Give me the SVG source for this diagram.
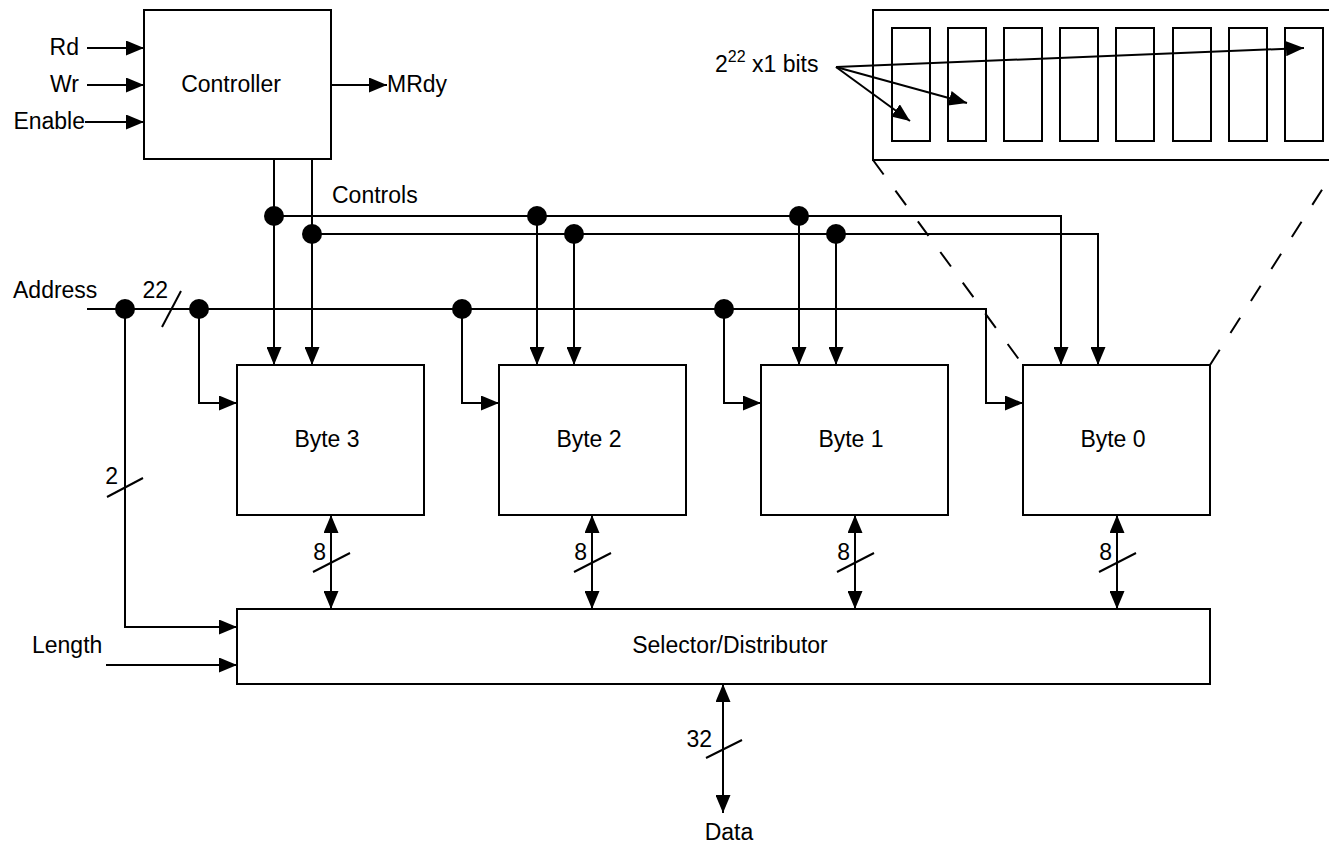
<svg xmlns="http://www.w3.org/2000/svg" width="1329" height="845" viewBox="0 0 1329 845">
<defs>
<marker id="arr" viewBox="0 0 18 15" refX="18" refY="7.5" markerWidth="18" markerHeight="15" markerUnits="userSpaceOnUse" orient="auto-start-reverse"><path d="M0,0 L18,7.5 L0,15 z" fill="#000"/></marker>
</defs>
<style>
.box{fill:#fff;stroke:#000;stroke-width:2}
.ln{fill:none;stroke:#000;stroke-width:2}
.dash{fill:none;stroke:#000;stroke-width:2;stroke-dasharray:18 20}
.t{font-family:"Liberation Sans",Arial,sans-serif;font-size:23px;fill:#000}
.m{text-anchor:middle}
.e{text-anchor:end}
.dot{fill:#000}
.a{marker-end:url(#arr)}
.aa{marker-start:url(#arr);marker-end:url(#arr)}
</style>
<rect x="0" y="0" width="1329" height="845" fill="#fff"/>

<g id="memory-detail">
<rect class="box" x="873" y="10" width="480" height="150"/>
<rect class="box" x="892" y="28" width="38" height="113"/>
<rect class="box" x="948" y="28" width="38" height="113"/>
<rect class="box" x="1004" y="28" width="38" height="113"/>
<rect class="box" x="1060" y="28" width="38" height="113"/>
<rect class="box" x="1116" y="28" width="38" height="113"/>
<rect class="box" x="1173" y="28" width="38" height="113"/>
<rect class="box" x="1229" y="28" width="38" height="113"/>
<rect class="box" x="1285" y="28" width="38" height="113"/>
<text class="t" x="715" y="72">2<tspan font-size="16" dy="-10">22</tspan><tspan dy="10"> x1 bits</tspan></text>
</g>

<g id="controller">
<rect class="box" x="144" y="10" width="187" height="149"/>
<text class="t m" x="231" y="92">Controller</text>
</g>

<g id="byte3">
<rect class="box" x="237" y="365" width="187" height="150"/>
<text class="t m" x="327" y="447">Byte 3</text>
</g>
<g id="byte2">
<rect class="box" x="499" y="365" width="187" height="150"/>
<text class="t m" x="589" y="447">Byte 2</text>
</g>
<g id="byte1">
<rect class="box" x="761" y="365" width="187" height="150"/>
<text class="t m" x="851" y="447">Byte 1</text>
</g>
<g id="byte0">
<rect class="box" x="1023" y="365" width="187" height="150"/>
<text class="t m" x="1113" y="447">Byte 0</text>
</g>

<g id="selector">
<rect class="box" x="237" y="609" width="973" height="75"/>
<text class="t m" x="730" y="653">Selector/Distributor</text>
</g>

<g id="connectors">
<line class="ln a" x1="836" y1="67" x2="1304" y2="48"/>
<line class="ln a" x1="836" y1="67" x2="967" y2="103"/>
<line class="ln a" x1="836" y1="67" x2="910" y2="121"/>
<line class="dash" x1="873" y1="160" x2="1023" y2="365"/>
<line class="dash" x1="1210" y1="365" x2="1341" y2="160"/>
<line class="ln a" x1="87" y1="48" x2="144" y2="48"/>
<line class="ln a" x1="87" y1="85" x2="144" y2="85"/>
<line class="ln a" x1="85" y1="122" x2="144" y2="122"/>
<line class="ln a" x1="331" y1="85" x2="387" y2="85"/>
<line class="ln a" x1="274" y1="159" x2="274" y2="365"/>
<line class="ln a" x1="312" y1="159" x2="312" y2="365"/>
<polyline class="ln a" points="274,216 1061,216 1061,365"/>
<polyline class="ln a" points="312,234 1098,234 1098,365"/>
<line class="ln a" x1="537" y1="216" x2="537" y2="365"/>
<line class="ln a" x1="574" y1="234" x2="574" y2="365"/>
<line class="ln a" x1="799" y1="216" x2="799" y2="365"/>
<line class="ln a" x1="836" y1="234" x2="836" y2="365"/>
<polyline class="ln a" points="87,309 986,309 986,403 1023,403"/>
<polyline class="ln a" points="199,309 199,403 237,403"/>
<polyline class="ln a" points="462,309 462,403 499,403"/>
<polyline class="ln a" points="724,309 724,403 761,403"/>
<polyline class="ln a" points="125,309 125,627 237,627"/>
<line class="ln" x1="162" y1="327" x2="181" y2="291"/>
<line class="ln" x1="107" y1="497" x2="143" y2="478"/>
<line class="ln a" x1="106" y1="665" x2="237" y2="665"/>
<line class="ln aa" x1="331" y1="515" x2="331" y2="609"/>
<line class="ln aa" x1="592" y1="515" x2="592" y2="609"/>
<line class="ln aa" x1="855" y1="515" x2="855" y2="609"/>
<line class="ln aa" x1="1117" y1="515" x2="1117" y2="609"/>
<line class="ln" x1="313" y1="572" x2="350" y2="553"/>
<line class="ln" x1="574" y1="572" x2="611" y2="553"/>
<line class="ln" x1="837" y1="572" x2="874" y2="553"/>
<line class="ln" x1="1099" y1="572" x2="1136" y2="553"/>
<line class="ln aa" x1="723" y1="684" x2="723" y2="813"/>
<line class="ln" x1="706" y1="758" x2="742" y2="740"/>
<circle class="dot" cx="274" cy="216" r="10"/>
<circle class="dot" cx="312" cy="234" r="10"/>
<circle class="dot" cx="537" cy="216" r="10"/>
<circle class="dot" cx="574" cy="234" r="10"/>
<circle class="dot" cx="799" cy="216" r="10"/>
<circle class="dot" cx="836" cy="234" r="10"/>
<circle class="dot" cx="125" cy="309" r="10"/>
<circle class="dot" cx="199" cy="309" r="10"/>
<circle class="dot" cx="462" cy="309" r="10"/>
<circle class="dot" cx="724" cy="309" r="10"/>
</g>

<g id="labels">
<text class="t e" x="79" y="55">Rd</text>
<text class="t e" x="79" y="92">Wr</text>
<text class="t e" x="85" y="129">Enable</text>
<text class="t" x="387" y="92">MRdy</text>
<text class="t" x="332" y="203">Controls</text>
<text class="t" x="13" y="298">Address</text>
<text class="t e" x="168" y="298">22</text>
<text class="t e" x="118" y="484">2</text>
<text class="t e" x="326" y="560">8</text>
<text class="t e" x="587" y="560">8</text>
<text class="t e" x="850" y="560">8</text>
<text class="t e" x="1112" y="560">8</text>
<text class="t e" x="712" y="747">32</text>
<text class="t" x="32" y="653">Length</text>
<text class="t m" x="729" y="840">Data</text>
</g>
</svg>
